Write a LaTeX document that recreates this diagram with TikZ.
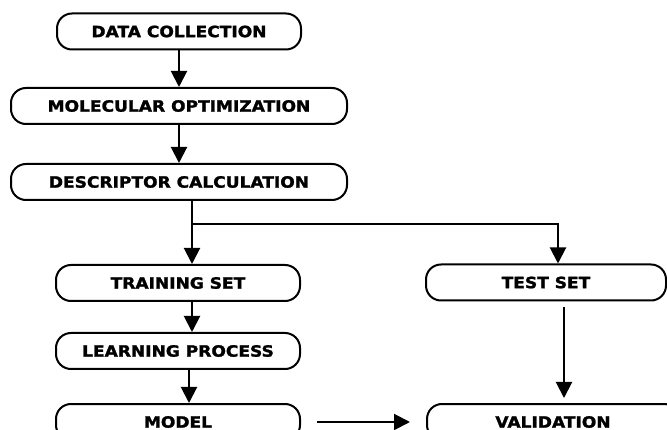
\documentclass[tikz,border=0pt]{standalone}
\usepackage{fontspec}
\setmainfont{DejaVu Sans}
\newfontfamily\heavyfont[BoldFeatures={FakeBold=1.6}]{DejaVu Sans}
\usetikzlibrary{arrows.meta}
\begin{document}
\begin{tikzpicture}[x=1pt,y=-1pt,
  stage/.style={draw, line width=2pt, rounded corners=15pt, minimum height=36pt,
    inner sep=0pt, font=\fontsize{15.5}{15.5}\heavyfont\bfseries},
  flow/.style={line width=2pt, -{Triangle[length=16pt,width=16pt]}}]
\useasboundingbox (0,0) rectangle (667,430);
\clip (0,0) rectangle (667,430);
\fill[white] (0,0) rectangle (667,430);
\newcommand{\wtxt}[1]{\scalebox{1.1}[1]{#1}}
\node[stage, minimum width=244pt] (dc) at (179,31.5) {\wtxt{DATA COLLECTION}};
\node[stage, minimum width=336pt] (mo) at (179,106) {\wtxt{MOLECULAR OPTIMIZATION}};
\node[stage, minimum width=336pt] (de) at (179,182) {\wtxt{DESCRIPTOR CALCULATION}};
\node[stage, minimum width=244pt] (ts) at (178,283) {\wtxt{TRAINING SET}};
\node[stage, minimum width=244pt] (lp) at (178,351) {\wtxt{LEARNING PROCESS}};
\node[stage, minimum width=244pt] (md) at (178,422) {\wtxt{MODEL}};
\node[stage, minimum width=240pt] (te) at (546,282.5) {\wtxt{TEST SET}};
\node[stage, minimum width=252pt] (va) at (553,422) {\wtxt{VALIDATION}};
\coordinate (br) at (192,224);
\draw[flow] (dc) -- (mo);
\draw[flow] (mo) -- (de);
\draw[flow] ([xshift=13pt]de.south) -- ([xshift=14pt]ts.north);
\draw[flow] (br) -- (558,224) -- ([xshift=12pt]te.north);
\draw[flow] ([xshift=14pt]ts.south) -- ([xshift=14pt]lp.north);
\draw[flow] ([xshift=11pt]lp.south) -- ([xshift=11pt]md.north);
\draw[flow] ([xshift=18pt,yshift=-6pt]te.south) -- ([xshift=11pt,yshift=5pt]va.north);
\draw[flow] ([xshift=16pt]md.east) -- ([xshift=-16pt]va.west);
\end{tikzpicture}
\end{document}
